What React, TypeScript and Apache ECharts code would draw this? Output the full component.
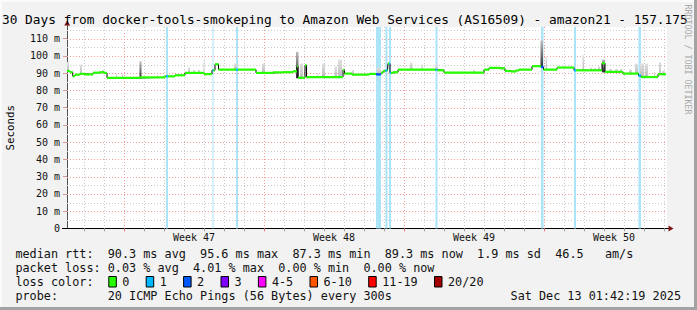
import React, { useEffect, useRef } from "react";
import * as echarts from "echarts";

const WIDTH = 697;
const HEIGHT = 310;

const TITLE_TEXT =
  "30 Days from docker-tools-smokeping to Amazon Web Services (AS16509) - amazon21 - 157.175";
const Y_AXIS_NAME = "Seconds";
const WATERMARK = "RRDTOOL / TOBI OETIKER";

// x axis: days since the start of the graph window
const X_SPAN_DAYS = 30;
const Y_TOP_MS = 116.8;
const Y_LABEL_STEP = 10;
const FIRST_MIDNIGHT = 0.85;
const weekStarts = [2.85, 9.85, 16.85, 23.85];
const weekLabels = ["Week 47", "Week 48", "Week 49", "Week 50"];
const weekLabelDays = [6.35, 13.35, 20.35, 27.35];

// median rtt (ms), held from each day until the next one
const medianDay = [
  0, 0.15, 0.285, 0.4, 0.65, 0.9, 1.3, 1.65, 1.85, 2.0,
  3.65, 4.9, 4.95, 5.05, 5.4, 5.9, 6.85, 7.25, 7.275, 7.325,
  7.4, 7.575, 8.45, 8.55, 9.45, 10.3, 10.8, 11.3, 11.5, 11.55,
  11.9, 11.975, 13.8, 13.875, 14.25, 15.1, 15.45, 15.7, 15.8, 15.925,
  16.025, 16.05, 16.1, 16.15, 16.2, 16.3, 16.55, 18.425, 18.525, 18.85,
  20.85, 21.1, 21.65, 21.9, 22.2, 22.45, 22.6, 23.25, 23.7, 23.825,
  24.5, 25.35, 25.45, 26.75, 26.9, 27.8, 28.575, 28.7, 29.55,
];
const medianMs = [
  91.3, 90.6, 88.3, 89.2, 89.6, 89.3, 90.3, 90.6, 90.2, 87.3,
  87.6, 88.2, 88.2, 88.2, 88.8, 90.2, 89.5, 91.7, 91.7, 91.7,
  95.2, 92.1, 92.1, 92.1, 90.2, 90.5, 90.6, 91.1, 94.0, 87.4,
  94.5, 87.8, 92.0, 89.8, 89.2, 89.6, 89.3, 90.2, 91.3, 91.7,
  91.7, 95.6, 95.6, 90.2, 90.2, 90.6, 92.1, 92.1, 91.7, 90.4,
  92.1, 93.1, 92.8, 91.3, 91.0, 91.6, 92.1, 94.1, 93.6, 92.1,
  93.3, 91.7, 91.7, 95.8, 90.8, 89.8, 88.6, 87.8, 89.4,
];
const medianLoss = [
  0, 0, 0, 0, 0, 0, 0, 0, 0, 0,
  0, 0, 1, 0, 0, 0, 0, 0, 1, 0,
  0, 0, 1, 0, 0, 0, 0, 0, 0, 0,
  0, 0, 0, 0, 0, 0, 2, 0, 0, 1,
  0, 0, 1, 1, 0, 0, 0, 1, 0, 0,
  0, 0, 0, 0, 0, 0, 0, 0, 2, 0,
  0, 1, 0, 0, 0, 0, 1, 0, 0,
];
const MEDIAN_END_DAY = 29.95;

// periods with packet loss (days)
const lossFrom = [4.95, 7.275, 8.45, 15.45, 15.925, 16.1, 18.425, 23.7, 25.35, 28.575];
const lossTo = [5.05, 7.325, 8.55, 15.7, 16.025, 16.2, 18.525, 23.825, 25.45, 28.7];

// smoke (spread of the 20 pings above the median)
const smokeFrom = [
  0.0, 0.65, 1.6, 1.75, 2.45, 2.75, 3.625, 4.5, 6.05, 6.3,
  6.55, 6.825, 8.35, 9.75, 11.45, 11.65, 11.95, 12.5, 12.75, 13.375,
  13.55, 14.25, 15.5, 17.15, 17.725, 18.425, 20.3, 23.675, 23.925, 25.775,
  26.15, 26.35, 26.55, 26.75, 27.1, 27.4, 27.65, 28.1, 28.4, 28.65,
  28.9, 29.35, 29.6, 29.75,
];
const smokeTo = [
  0.1, 0.75, 1.65, 1.85, 2.5, 2.8, 3.725, 4.55, 6.15, 6.4,
  6.65, 6.875, 8.5, 9.9, 11.575, 11.8, 12.0, 12.55, 12.9, 13.5,
  13.75, 14.35, 15.7, 17.275, 17.8, 18.525, 20.4, 23.8, 24.0, 25.85,
  26.25, 26.45, 26.65, 26.9, 27.25, 27.55, 27.75, 28.25, 28.55, 28.85,
  29.05, 29.4, 29.7, 29.9,
];
const smokeHigh = [
  96.5, 95.0, 91.9, 92.0, 89.5, 89.8, 96.9, 89.0, 93.3, 92.0,
  92.0, 97.9, 95.6, 95.6, 102.4, 95.6, 95.6, 89.8, 95.6, 93.9,
  97.9, 91.9, 93.3, 96.2, 95.0, 95.0, 91.9, 109.0, 99.5, 100.4,
  93.3, 93.0, 94.0, 97.9, 92.5, 92.4, 92.5, 92.2, 95.6, 95.6,
  95.6, 90.5, 96.5, 91.5,
];
const smokeDark = [
  0, 0, 0, 0, 0, 0, 1, 0, 0, 0,
  0, 0, 0, 0, 1, 0, 0, 0, 0, 0,
  0, 0, 0, 0, 0, 0, 0, 1, 0, 0,
  0, 0, 0, 1, 0, 0, 0, 0, 0, 0,
  0, 0, 0, 0,
];

const statRtt =
  "median rtt:  90.3 ms avg  95.6 ms max  87.3 ms min  89.3 ms now  1.9 ms sd  46.5   am/s";
const statLoss = "packet loss: 0.03 % avg  4.01 % max  0.00 % min  0.00 % now";
const lossLegendTitle = "loss color:";
const lossLegendLabels = ["0", "1", "2", "3", "4-5", "6-10", "11-19", "20/20"];
const lossLegendColors = [
  "#26ff00", "#00b8ff", "#0059ff", "#7e00ff", "#ff00ff", "#ff5500", "#ff0000", "#a10000",
];
const probeLabel = "probe:       20 ICMP Echo Pings (56 Bytes) every 300s";
const stampText = "Sat Dec 13 01:42:19 2025";

export default function App() {
  const ref = useRef<HTMLDivElement>(null);

  useEffect(() => {
    document.body.style.margin = "0";
    const el = ref.current as HTMLDivElement;
    const chart = echarts.init(el, null, { renderer: "svg" });

    const MONO = '"DejaVu Sans Mono", monospace';
    const GRID_RED = "#f29c9c";
    const GRID_GREY = "#cbcbcb";
    const BAND = "#abe3f7";

    const dayLines: number[][] = [];
    for (let k = 0; k < X_SPAN_DAYS; k++) {
      const d = FIRST_MIDNIGHT + k;
      if (d < X_SPAN_DAYS)
        dayLines.push([d, weekStarts.some((w) => Math.abs(w - d) < 1e-6) ? 1 : 0]);
    }
    const msLines: number[][] = [];
    for (let v = 5; v < Y_TOP_MS; v += 5) msLines.push([0, v, v % 10 === 0 ? 1 : 0]);

    const n = medianDay.length;
    const medianLine = medianDay.map((d, i) => [d, medianMs[i]]);
    medianLine.push([MEDIAN_END_DAY, medianMs[n - 1]]);
    const medianRows = medianDay.map((d, i) => [
      d,
      i + 1 < n ? medianDay[i + 1] : MEDIAN_END_DAY,
      medianMs[i],
      medianLoss[i],
    ]);
    const medianAt = (d: number) => {
      let v = medianMs[0];
      for (let i = 0; i < n; i++) if (medianDay[i] <= d + 1e-9) v = medianMs[i];
      return v;
    };
    const smokeRows = smokeFrom.map((f, i) => [
      f,
      smokeTo[i],
      Math.min(medianAt(f), medianAt(smokeTo[i])) - 0.3,
      smokeHigh[i],
      smokeDark[i],
    ]);
    const lossRows = lossFrom.map((f, i) => [f, lossTo[i]]);

    const option: any = {
      animation: false,
      backgroundColor: "#f2f2f2",
      grid: {
        left: 67,
        right: WIDTH - 667,
        top: 27,
        bottom: HEIGHT - 228.5,
        show: true,
        backgroundColor: "#ffffff",
        borderWidth: 0,
        containLabel: false,
      },
      xAxis: {
        type: "value",
        min: 0,
        max: X_SPAN_DAYS,
        axisLine: { show: true, lineStyle: { color: "#000", width: 1 } },
        axisTick: { show: false },
        axisLabel: { show: false },
        splitLine: { show: false },
      },
      yAxis: {
        type: "value",
        min: 0,
        max: Y_TOP_MS,
        interval: Y_LABEL_STEP,
        axisLine: { show: true, lineStyle: { color: "#505050", width: 1 } },
        axisTick: { show: true, length: 4, lineStyle: { color: "#d09a9a" } },
        axisLabel: {
          fontFamily: MONO,
          fontSize: 10,
          color: "#111",
          margin: 7,
          showMaxLabel: false,
          formatter: (v: number) =>
            Math.abs(v % Y_LABEL_STEP) < 1e-6 ? (v === 0 ? "0" : `${v} m`) : "",
        },
        splitLine: { show: false },
      },
      series: [
        {
          type: "custom",
          name: "vgrid",
          silent: true,
          z: 1,
          data: dayLines,
          renderItem: (params: any, api: any) => {
            const cs = params.coordSys;
            const x = Math.round(api.coord([api.value(0), 0])[0]) + 0.5;
            return {
              type: "line",
              shape: { x1: x, y1: cs.y, x2: x, y2: cs.y + cs.height },
              style: {
                stroke: api.value(1) ? GRID_RED : GRID_GREY,
                lineWidth: 1,
                lineDash: [1, 2],
              },
            };
          },
        },
        {
          type: "custom",
          name: "hgrid",
          silent: true,
          z: 1,
          data: msLines,
          renderItem: (params: any, api: any) => {
            const cs = params.coordSys;
            const y = Math.round(api.coord([0, api.value(1)])[1]) + 0.5;
            return {
              type: "line",
              shape: { x1: cs.x, y1: y, x2: cs.x + cs.width, y2: y },
              style: {
                stroke: api.value(2) ? GRID_RED : GRID_GREY,
                lineWidth: 1,
                lineDash: [1, 2],
              },
            };
          },
        },
        {
          type: "custom",
          name: "loss",
          silent: true,
          z: 2,
          data: lossRows,
          renderItem: (params: any, api: any) => {
            const cs = params.coordSys;
            const x0 = api.coord([api.value(0), 0])[0];
            const x1 = api.coord([api.value(1), 0])[0];
            return {
              type: "rect",
              shape: { x: x0, y: cs.y, width: Math.max(1, x1 - x0), height: cs.height },
              style: { fill: BAND },
            };
          },
        },
        {
          type: "custom",
          name: "smoke",
          silent: true,
          z: 3,
          data: smokeRows,
          renderItem: (params: any, api: any) => {
            const a = api.coord([api.value(0), api.value(3)]);
            const b = api.coord([api.value(1), api.value(2)]);
            const dark = api.value(4) === 1;
            return {
              type: "rect",
              shape: {
                x: a[0],
                y: a[1],
                width: Math.max(1, b[0] - a[0]),
                height: b[1] - a[1],
              },
              style: {
                fill: new echarts.graphic.LinearGradient(
                  0,
                  0,
                  0,
                  1,
                  dark
                    ? [
                        { offset: 0, color: "#bdbdbd" },
                        { offset: 1, color: "#2c2c2c" },
                      ]
                    : [
                        { offset: 0, color: "#e0e0e0" },
                        { offset: 1, color: "#bcbcbc" },
                      ]
                ),
              },
            };
          },
        },
        {
          type: "line",
          name: "median",
          step: "end",
          symbol: "none",
          z: 4,
          silent: true,
          lineStyle: { color: "#000", width: 1 },
          data: medianLine,
        },
        {
          type: "custom",
          name: "medianLoss",
          silent: true,
          z: 5,
          data: medianRows,
          renderItem: (params: any, api: any) => {
            const a = api.coord([api.value(0), api.value(2)]);
            const b = api.coord([api.value(1), api.value(2)]);
            return {
              type: "line",
              shape: { x1: a[0], y1: a[1], x2: b[0], y2: b[1] },
              style: { stroke: lossLegendColors[api.value(3)], lineWidth: 2.2 },
            };
          },
        },
      ],
    };

    chart.setOption(option);

    const px = (d: number) => chart.convertToPixel({ xAxisIndex: 0 }, d) as number;
    const py = (v: number) => chart.convertToPixel({ yAxisIndex: 0 }, v) as number;
    const xL = px(0);
    const xR = px(X_SPAN_DAYS);
    const yB = py(0);
    const yT = py(Y_TOP_MS);

    const txt = (
      text: string,
      x: number,
      y: number,
      font: string,
      align: string,
      fill = "#000",
      rotation = 0
    ) => ({
      type: "text",
      x,
      y,
      rotation,
      z: 50,
      silent: true,
      style: {
        text,
        font,
        fill,
        align,
        verticalAlign: "middle",
        textAlign: align,
        textVerticalAlign: "middle",
      },
    });

    const els: any[] = [];
    // title and side texts
    els.push(txt(TITLE_TEXT, 2, 19.5, `12.8px ${MONO}`, "left"));
    els.push(txt(Y_AXIS_NAME, 10.3, 127.8, `10.8px ${MONO}`, "center", "#000", Math.PI / 2));
    els.push(txt(WATERMARK, 688, 59.5, `8.3px ${MONO}`, "center", "#a9a9a9", -Math.PI / 2));

    // axis extensions and arrows
    els.push({
      type: "line",
      z: 40,
      silent: true,
      shape: { x1: xL + 0.5, y1: yT, x2: xL + 0.5, y2: 24 },
      style: { stroke: "#505050", lineWidth: 1 },
    });
    els.push({
      type: "polygon",
      z: 41,
      silent: true,
      shape: { points: [[xL - 2.8, 25.5], [xL + 3.2, 25.5], [xL + 0.2, 20.5]] },
      style: { fill: "#7d1717" },
    });
    els.push({
      type: "line",
      z: 40,
      silent: true,
      shape: { x1: 62, y1: yB, x2: xL, y2: yB },
      style: { stroke: "#000", lineWidth: 1 },
    });
    els.push({
      type: "line",
      z: 40,
      silent: true,
      shape: { x1: xR, y1: yB, x2: xR + 2, y2: yB },
      style: { stroke: "#000", lineWidth: 1 },
    });
    els.push({
      type: "polygon",
      z: 41,
      silent: true,
      shape: { points: [[xR + 1.5, yB - 3], [xR + 1.5, yB + 3], [xR + 6.5, yB]] },
      style: { fill: "#7d1717" },
    });

    // x ticks below the axis
    dayLines.forEach(([d, w]) => {
      const x = Math.round(px(d)) + 0.5;
      els.push({
        type: "line",
        z: 40,
        silent: true,
        shape: { x1: x, y1: yB, x2: x, y2: yB + 2.8 },
        style: { stroke: w ? "#e06c6c" : "#9a9a9a", lineWidth: 1 },
      });
    });

    // week labels
    weekLabels.forEach((lab, i) => {
      els.push(txt(lab, px(weekLabelDays[i]), yB + 9.3, `10px ${MONO}`, "center", "#111"));
    });

    // legend / statistics
    const LF = `11.8px ${MONO}`;
    els.push(txt(statRtt, 15.4, 254.3, LF, "left", "#111"));
    els.push(txt(statLoss, 15.4, 268.3, LF, "left", "#111"));
    els.push(txt(lossLegendTitle, 15.4, 282.3, LF, "left", "#111"));
    els.push(txt(probeLabel, 15.4, 296, LF, "left", "#111"));
    els.push(txt(stampText, 681, 296, LF, "right", "#111"));

    let bx = 108.3;
    lossLegendLabels.forEach((lab, i) => {
      els.push({
        type: "rect",
        z: 50,
        silent: true,
        shape: { x: bx + 0.5, y: 276.5, width: 7.5, height: 10.5 },
        style: { fill: lossLegendColors[i], stroke: "#000", lineWidth: 1 },
      });
      const lx = bx + 14;
      els.push(txt(lab, lx, 282.3, LF, "left", "#111"));
      bx = lx + lab.length * 7.1 + 16.3;
    });

    // frame
    els.push({ type: "rect", z: 60, silent: true, shape: { x: 0, y: 0, width: WIDTH, height: 2 }, style: { fill: "#fbfbfb" } });
    els.push({ type: "rect", z: 60, silent: true, shape: { x: 0, y: 0, width: 2, height: HEIGHT }, style: { fill: "#fbfbfb" } });
    els.push({ type: "rect", z: 60, silent: true, shape: { x: WIDTH - 3, y: 0, width: 3, height: HEIGHT }, style: { fill: "#a3a3a3" } });
    els.push({ type: "rect", z: 60, silent: true, shape: { x: 0, y: HEIGHT - 3, width: WIDTH, height: 3 }, style: { fill: "#a3a3a3" } });

    chart.setOption({ graphic: { elements: els } });

    return () => {
      chart.dispose();
    };
  }, []);

  return (
    <div
      ref={ref}
      style={{ position: "absolute", left: 0, top: 0, width: WIDTH, height: HEIGHT }}
    />
  );
}
